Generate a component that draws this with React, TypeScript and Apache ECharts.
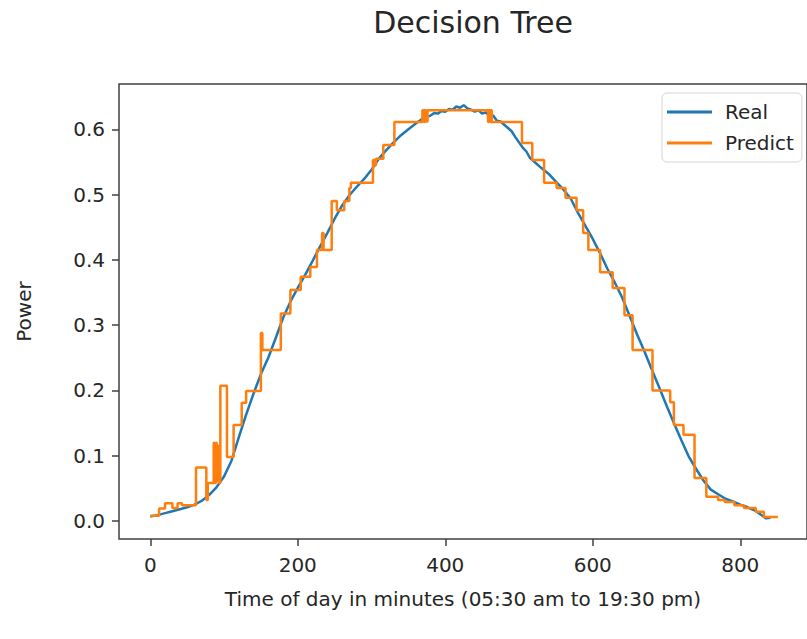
import React, { useEffect, useRef } from "react";
import * as echarts from "echarts";

const realX = [0, 10, 20, 30, 40, 50, 60, 70, 80, 90, 100, 110, 120, 130, 140, 150, 160, 170, 180, 190, 200, 210, 220, 230, 240, 250, 260, 270, 280, 290, 300, 310, 320, 330, 340, 350, 360, 370, 380, 385, 390, 395, 400, 405, 410, 415, 420, 425, 430, 435, 440, 445, 450, 455, 460, 465, 470, 475, 480, 485, 490, 495, 500, 505, 510, 515, 520, 530, 540, 550, 560, 570, 580, 590, 600, 610, 620, 630, 640, 650, 660, 670, 680, 690, 700, 710, 720, 730, 740, 750, 760, 770, 780, 790, 800, 810, 820, 830, 835, 841];
const realY = [0.007, 0.009, 0.012, 0.015, 0.018, 0.021, 0.025, 0.031, 0.04, 0.052, 0.068, 0.092, 0.128, 0.163, 0.195, 0.225, 0.25, 0.28, 0.311, 0.336, 0.357, 0.377, 0.398, 0.42, 0.441, 0.463, 0.483, 0.499, 0.512, 0.524, 0.538, 0.555, 0.568, 0.58, 0.591, 0.6, 0.609, 0.617, 0.621, 0.625, 0.624, 0.628, 0.627, 0.631, 0.63, 0.635, 0.633, 0.637, 0.632, 0.63, 0.627, 0.629, 0.624, 0.626, 0.62, 0.621, 0.613, 0.612, 0.607, 0.602, 0.597, 0.588, 0.58, 0.572, 0.566, 0.556, 0.551, 0.541, 0.532, 0.52, 0.508, 0.494, 0.472, 0.452, 0.432, 0.41, 0.386, 0.365, 0.342, 0.314, 0.286, 0.26, 0.232, 0.205, 0.177, 0.15, 0.124, 0.099, 0.08, 0.062, 0.048, 0.041, 0.034, 0.03, 0.025, 0.021, 0.016, 0.008, 0.004, 0.005];

const predX = [0, 12, 20, 30, 37, 43, 62, 76, 78, 86, 87, 89, 90, 91, 93, 95, 104, 113, 124, 130, 150, 152, 177, 190, 204, 217, 226, 233, 235, 246, 253, 263, 270, 272, 302, 304, 306, 316, 331, 369, 371, 372, 374, 376, 458, 459, 461, 462, 463, 504, 518, 534, 551, 563, 578, 587, 594, 610, 627, 643, 654, 681, 705, 710, 723, 738, 754, 770, 779, 792, 805, 821, 832, 851];
const predY = [0.008, 0.019, 0.027, 0.02, 0.027, 0.024, 0.082, 0.032, 0.058, 0.12, 0.058, 0.12, 0.062, 0.115, 0.058, 0.207, 0.098, 0.147, 0.181, 0.199, 0.288, 0.262, 0.318, 0.354, 0.374, 0.389, 0.415, 0.441, 0.415, 0.49, 0.476, 0.49, 0.51, 0.518, 0.553, 0.545, 0.555, 0.576, 0.611, 0.629, 0.611, 0.629, 0.612, 0.629, 0.611, 0.629, 0.611, 0.629, 0.611, 0.579, 0.553, 0.518, 0.51, 0.495, 0.476, 0.441, 0.415, 0.381, 0.357, 0.315, 0.262, 0.2, 0.182, 0.147, 0.132, 0.066, 0.037, 0.032, 0.029, 0.024, 0.02, 0.014, 0.006, 0.006];

const xTicks = [0, 200, 400, 600, 800];
const yTicks = [0.0, 0.1, 0.2, 0.3, 0.4, 0.5, 0.6];

const FONT = "DejaVu Sans";
const TXT = "#262626";
const AX = "#404040";

export default function App() {
  const ref = useRef<HTMLDivElement>(null);
  useEffect(() => {
    if (!ref.current) return;
    const chart = echarts.init(ref.current, undefined, { renderer: "svg" });
    chart.setOption({
      animation: false,
      backgroundColor: "#ffffff",
      textStyle: { fontFamily: FONT },
      title: {
        text: "Decision Tree",
        left: 468,
        top: 2,
        textAlign: "center",
        textStyle: { fontFamily: FONT, fontSize: 30, fontWeight: "normal", color: TXT },
      },
      legend: {
        orient: "vertical",
        left: 662,
        top: 93,
        padding: [9, 8, 9, 5],
        itemGap: 11,
        itemWidth: 45,
        itemHeight: 3,
        icon: "rect",
        backgroundColor: "#ffffff",
        borderColor: "#d6d6d6",
        borderWidth: 1,
        borderRadius: 5,
        textStyle: { fontFamily: FONT, fontSize: 20, color: TXT, lineHeight: 20, padding: [0, 0, 0, 8] },
        data: ["Real", "Predict"],
      },
      grid: {
        left: 119,
        top: 84,
        right: -10,
        bottom: 100,
        show: true,
        borderColor: AX,
        borderWidth: 1.5,
        containLabel: false,
      },
      xAxis: {
        type: "value",
        min: -42.4,
        max: 890.5,
        name: "Time of day in minutes (05:30 am to 19:30 pm)",
        nameLocation: "middle",
        nameGap: 50,
        nameTextStyle: { fontFamily: FONT, fontSize: 20, color: TXT },
        axisLine: { show: false, onZero: false },
        splitLine: { show: false },
        axisTick: { show: true, inside: false, length: 7, lineStyle: { color: AX, width: 1.5 }, customValues: xTicks },
        axisLabel: { show: true, margin: 16, fontFamily: FONT, fontSize: 20, color: TXT, customValues: xTicks, formatter: (v: number) => String(v) },
      },
      yAxis: {
        type: "value",
        min: -0.0276,
        max: 0.6694,
        name: "Power",
        nameLocation: "middle",
        nameGap: 85,
        nameTextStyle: { fontFamily: FONT, fontSize: 20, color: TXT },
        axisLine: { show: false, onZero: false },
        splitLine: { show: false },
        axisTick: { show: true, inside: false, length: 7, lineStyle: { color: AX, width: 1.5 }, customValues: yTicks },
        axisLabel: { show: true, margin: 14, fontFamily: FONT, fontSize: 20, color: TXT, customValues: yTicks, formatter: (v: number) => v.toFixed(1) },
      },
      series: [
        {
          name: "Real",
          type: "line",
          showSymbol: false,
          symbol: "none",
          color: "#1f77b4",
          lineStyle: { width: 2.5, color: "#1f77b4" },
          data: realX.map((x, i) => [x, realY[i]]),
        },
        {
          name: "Predict",
          type: "line",
          step: "end",
          showSymbol: false,
          symbol: "none",
          color: "#ff7f0e",
          lineStyle: { width: 2.5, color: "#ff7f0e" },
          data: predX.map((x, i) => [x, predY[i]]),
        },
      ],
    });
    return () => chart.dispose();
  }, []);
  return <div ref={ref} style={{ position: "fixed", left: 0, top: 0, width: 807, height: 639 }} />;
}
